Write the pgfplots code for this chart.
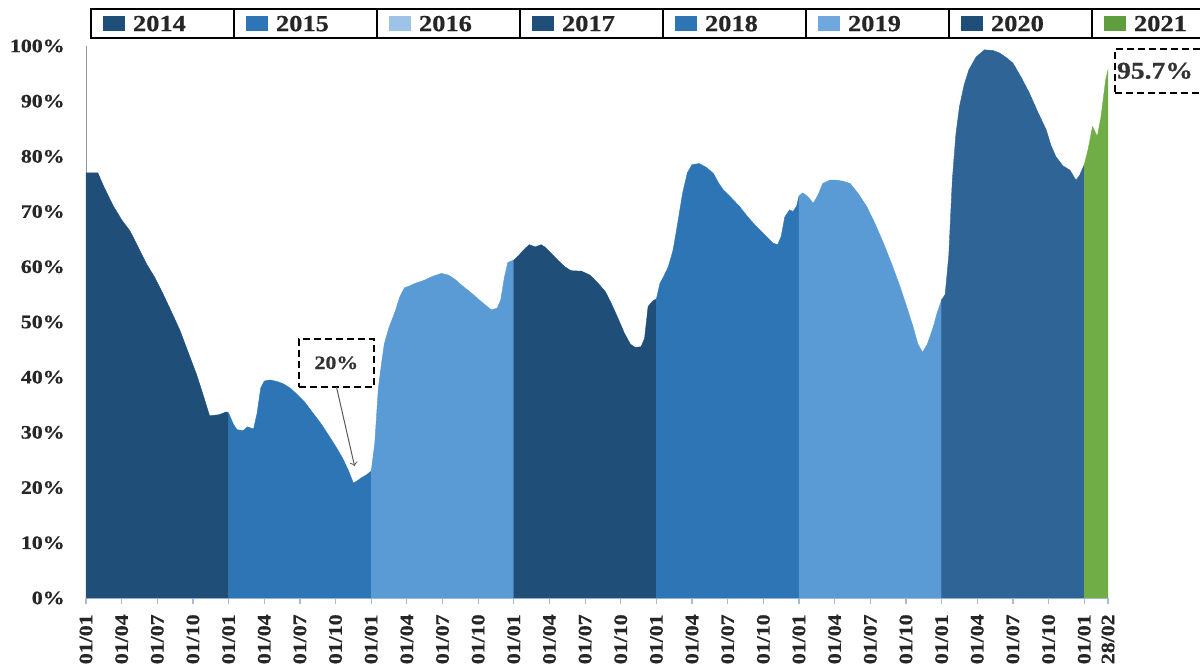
\documentclass[border=0pt]{standalone}
\usepackage{pgfplots}
\pgfplotsset{compat=1.18}
\usepackage{fontspec}
\setmainfont{Liberation Serif}[FakeStretch=1.15, BoldFeatures={FakeBold=0.6}]
\definecolor{cA}{HTML}{1F4E79}
\definecolor{cB}{HTML}{2E75B6}
\definecolor{cC}{HTML}{5B9BD5}
\definecolor{cD}{HTML}{2F6497}
\definecolor{cG}{HTML}{70AD47}
\definecolor{lC}{HTML}{9DC3E6}
\definecolor{lC2}{HTML}{6FA8DC}
\definecolor{lG}{HTML}{5E9E3E}
\definecolor{tickc}{HTML}{A6BCD6}
\pgfplotsset{
  leg/.style={legend image code/.code={
    \path[draw=none,fill=none] (0pt,-7.25pt) rectangle (21pt,7.25pt);
    \fill[#1,draw=none] (6pt,-3.75pt) rectangle (17pt,3.75pt);}},
}
\begin{document}
\begin{tikzpicture}
\path[use as bounding box] (0pt,0pt) rectangle (600pt,336pt);
\begin{axis}[
  at={(43pt,37pt)}, anchor=south west,
  scale only axis, width=511pt, height=276pt,
  xmin=0, xmax=86, ymin=0, ymax=100,
  clip=false,
  axis x line*=bottom, axis y line*=left,
  x axis line style={draw=tickc, line width=0.6pt},
  y axis line style={draw=gray!80, line width=0.5pt},
  xtick={0,3,6,9,12,15,18,21,24,27,30,33,36,39,42,45,48,51,54,57,60,63,66,69,72,75,78,81,84,86},
  xticklabels={01/01,01/04,01/07,01/10,01/01,01/04,01/07,01/10,01/01,01/04,01/07,01/10,01/01,01/04,01/07,01/10,01/01,01/04,01/07,01/10,01/01,01/04,01/07,01/10,01/01,01/04,01/07,01/10,01/01,28/02},
  ytick={0,10,...,100},
  yticklabel={\pgfmathprintnumber{\tick}\%},
  /pgf/number format/assume math mode=true,
  tick label style={font=\fontsize{9.5}{10}\selectfont\bfseries, text=black!85},
  y tick label style={inner sep=0pt},
  yticklabel shift=7.5pt,
  x tick label style={rotate=90, anchor=east, inner sep=0pt, font=\fontsize{9.5}{10}\selectfont\bfseries},
  xticklabel shift=5pt,
  ytick style={draw=none},
  xtick style={draw=tickc, line width=0.6pt},
  tick align=outside, major tick length=3pt,
  legend columns=8,
  legend style={at={(0.0049,1.067)}, anchor=north west, draw=black, line width=1.2pt,
    inner sep=0pt, outer sep=0pt, column sep=0pt, row sep=0pt, fill=white,
    font=\fontsize{11.5}{12}\selectfont\bfseries,
    nodes={inner sep=0pt, text width=50.5pt, minimum height=14.5pt, align=left, anchor=west, text depth=0pt, text=black!85},
    /tikz/every odd column/.style={column sep=0pt},
    /tikz/every even column/.style={column sep=0pt}},
]
\addplot[fill=cA, draw=cA, line width=0.2pt, leg=cA] coordinates {
(0,77) (1.0,77) (1.5,74.5) (2.3,71) (3.0,68.5) (3.7,66.5) (4.4,63.5) (5.1,60.5) (5.8,58) (6.5,55) (7.2,51.8) (7.9,48.5) (8.6,44.5) (9.3,40.5) (9.9,36.5) (10.4,33) (11.2,33.2) (11.8,33.7) (12,33.5)
} \closedcycle;
\addlegendentry{2014}
\addplot[fill=cB, draw=cB, line width=0.2pt, leg=cB] coordinates {
(12,33.5) (12.4,31.5) (12.7,30.5) (13.2,30.3) (13.6,31) (14.1,30.6) (14.4,33.5) (14.7,38) (15.0,39.3) (15.5,39.5) (16.1,39.2) (16.6,38.8) (17.2,38) (17.7,37) (18.4,35.5) (19.1,33.5) (19.8,31.5) (20.5,29.2) (21.0,27.5) (21.6,25.3) (22.1,23) (22.5,20.8) (22.8,21.2) (23.2,21.8) (23.6,22.3) (24,23)
} \closedcycle;
\addlegendentry{2015}
\addplot[fill=cC, draw=cC, line width=0.2pt, leg=lC] coordinates {
(24,23) (24.3,28) (24.6,38) (24.9,43) (25.1,46) (25.5,49) (26.0,51.8) (26.4,54.5) (26.8,56.2) (27.2,56.5) (27.7,57) (28.4,57.5) (29.1,58.2) (29.9,58.8) (30.5,58.5) (31.0,57.8) (31.7,56.5) (32.4,55.3) (33.2,53.8) (34.1,52.2) (34.6,52.5) (34.9,54) (35.2,58) (35.5,60.8) (36,61.2)
} \closedcycle;
\addlegendentry{2016}
\addplot[fill=cA, draw=cA, line width=0.2pt, leg=cA] coordinates {
(36,61.2) (36.4,62) (36.8,63) (37.3,64) (37.8,63.6) (38.3,64) (38.6,63.6) (39.2,62.3) (39.8,61) (40.3,60) (40.8,59.3) (41.7,59.2) (42.4,58.5) (43.1,57) (43.7,55.5) (44.2,53.4) (44.8,50.5) (45.3,48) (45.8,46) (46.2,45.4) (46.7,45.5) (47.0,47) (47.3,52.8) (47.7,53.8) (48,54.2)
} \closedcycle;
\addlegendentry{2017}
\addplot[fill=cB, draw=cB, line width=0.2pt, leg=cB] coordinates {
(48,54.2) (48.3,57) (48.6,58.2) (49.0,60) (49.4,63) (49.8,68) (50.2,73.3) (50.6,77) (51.0,78.5) (51.6,78.7) (52.2,78) (52.8,76.9) (53.2,75.3) (53.6,74) (54.3,72.5) (55.0,70.9) (55.7,69) (56.4,67.3) (57.1,65.8) (57.8,64.3) (58.2,64) (58.5,65.5) (58.8,69) (59.2,70.3) (59.5,70) (59.8,71) (60,72.8)
} \closedcycle;
\addlegendentry{2018}
\addplot[fill=cC, draw=cC, line width=0.2pt, leg=lC2] coordinates {
(60,72.8) (60.3,73.4) (60.7,72.8) (61.2,71.5) (61.6,73) (62.0,75.1) (62.6,75.7) (63.1,75.7) (63.7,75.5) (64.3,75.1) (65.0,73.2) (65.7,70.9) (66.4,67.8) (67.1,64.3) (67.8,60.5) (68.5,56.4) (69.1,52.5) (69.6,49.1) (70.0,46) (70.4,44.5) (70.8,46) (71.3,49.1) (71.6,51.5) (72,54)
} \closedcycle;
\addlegendentry{2019}
\addplot[fill=cD, draw=cD, line width=0.2pt, leg=cA] coordinates {
(72,54) (72.3,55) (72.6,62) (72.9,75.7) (73.2,84) (73.5,89) (73.9,93) (74.3,95.7) (74.9,98) (75.6,99.3) (76.3,99.2) (76.9,98.7) (77.5,97.8) (78.0,96.9) (78.7,94.3) (79.4,91.4) (80.1,88) (80.8,84.8) (81.2,82) (81.6,80) (82.2,78.3) (82.8,77.5) (83.3,75.7) (83.6,76.5) (84,78.5)
} \closedcycle;
\addlegendentry{2020}
\addplot[fill=cG, draw=cG, line width=0.2pt, leg=lG] coordinates {
(84,78.5) (84.3,81) (84.7,85.4) (85.1,83.6) (85.4,87) (85.8,93.8) (86,95.7)
} \closedcycle;
\addlegendentry{2021}
\node[draw=black, line width=1.1pt, dash pattern=on 3.5pt off 2pt, inner sep=0pt,
  minimum width=37.5pt, minimum height=24pt, font=\fontsize{9.5}{10}\selectfont\bfseries, text=black!80]
  at (axis cs:21.07,42.6) {20\%};
\draw[gray!70!black, line width=0.5pt, ->] (axis cs:21.08,38.2) -- (axis cs:22.6,23.9);
\node[draw=black, line width=1.1pt, dash pattern=on 3.5pt off 2pt, anchor=west,
  inner xsep=1pt, inner ysep=0pt, text width=44pt, minimum height=22pt,
  font=\fontsize{12}{13}\selectfont\bfseries, text=black!80]
  at (axis cs:86.5,95.5) {95.7\%};
\end{axis}
\foreach \k in {1,...,7} {
  \draw[line width=1.2pt] ({45.5pt+\k*71.5pt},317pt) -- ({45.5pt+\k*71.5pt},331.5pt);
}
\end{tikzpicture}
\end{document}
